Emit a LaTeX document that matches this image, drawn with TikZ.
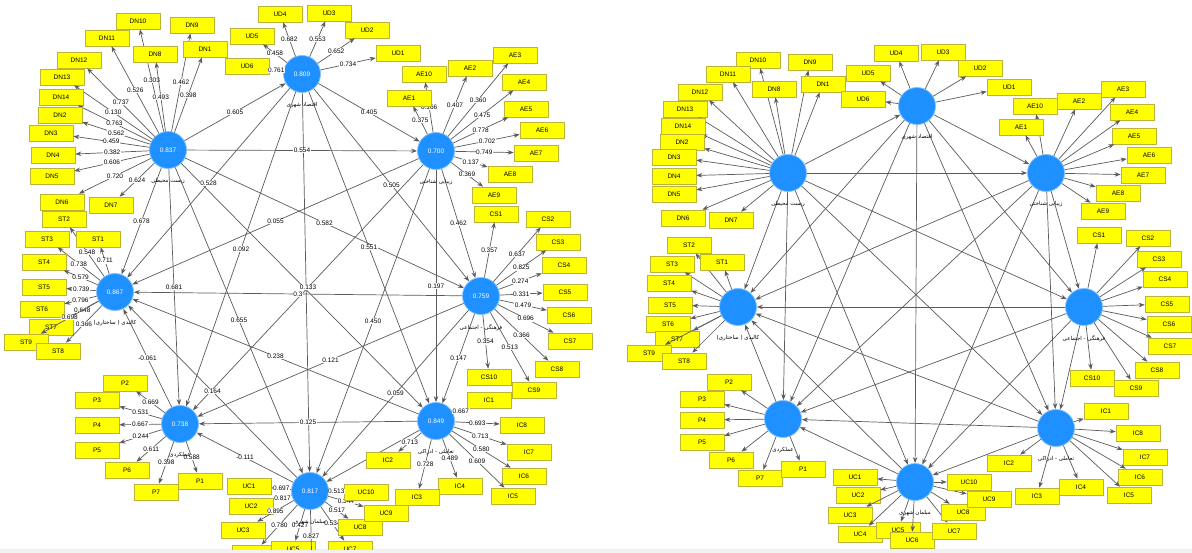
\documentclass[tikz,border=0pt]{standalone}
\usepackage{fontspec}
\setmainfont{Liberation Sans}
\newfontfamily\arabicfont[Script=Arabic]{DejaVu Sans}
\TeXXeTstate=1
\usetikzlibrary{arrows.meta,positioning,calc}
\definecolor{lvblue}{HTML}{1E90FF}
\definecolor{linegray}{HTML}{5A5A5A}
\definecolor{boxyellow}{HTML}{FFFF00}

\begin{document}
\begin{tikzpicture}[x=1pt, y=-1pt,
  construct/.style={circle, fill=lvblue, draw=lvblue!55!white, line width=0.8pt,
                    minimum size=37pt, inner sep=0pt, text=white,
                    font=\fontsize{6.5}{7}\selectfont},
  item/.style={rectangle, fill=boxyellow, draw=yellow!70!black, line width=0.6pt,
               minimum width=44pt, minimum height=16pt, inner sep=0pt,
               font=\fontsize{6.5}{7}\selectfont},
  coef/.style={fill=white, inner sep=0.6pt, font=\fontsize{6.5}{7}\selectfont},
  cname/.style={inner sep=0pt, font={\arabicfont\fontsize{5.5}{6}\selectfont}},
  link/.style={draw=linegray, line width=0.7pt, -{Stealth[length=6pt,width=4.5pt]}},
]
  \useasboundingbox (0,0) rectangle (1192,553);
  \fill[gray!12] (0,549) rectangle (1192,553);

  \begin{scope}
  \clip (0,0) rectangle (1192,549);

  % Left model: constructs with R-squared / AVE values
  \node[construct] (L-DN) at (168,150) {0.837};
  \node[construct] (L-UD) at (302,74)  {0.809};
  \node[construct] (L-AE) at (436,151) {0.700};
  \node[construct] (L-CS) at (481,296) {0.759};
  \node[construct] (L-IC) at (436,421) {0.849};
  \node[construct] (L-UC) at (310,491) {0.817};
  \node[construct] (L-P)  at (180,424) {0.738};
  \node[construct] (L-ST) at (115,292) {0.867};

  % Right model: same constructs, no values
  \node[construct] (R-DN) at (788,173) {};
  \node[construct] (R-UD) at (917,106) {};
  \node[construct] (R-AE) at (1046,173) {};
  \node[construct] (R-CS) at (1084,307) {};
  \node[construct] (R-IC) at (1056,428) {};
  \node[construct] (R-UC) at (915,482) {};
  \node[construct] (R-P)  at (783,419) {};
  \node[construct] (R-ST) at (738,307) {};

  % Structural paths (both models)
  \foreach \a/\b in {DN/UD, DN/AE, UD/AE, DN/CS, UD/CS, AE/CS, DN/IC, UD/IC,
                     AE/IC, CS/IC, DN/UC, UD/UC, AE/UC, CS/UC, IC/UC, DN/P,
                     UD/P, AE/P, CS/P, IC/P, UC/P, DN/ST, UD/ST, AE/ST,
                     CS/ST, IC/ST, UC/ST, P/ST} {
    \draw[link] (L-\a) -- (L-\b);
    \draw[link] (R-\a) -- (R-\b);
  }

  % Path coefficients (left model only)
  \foreach \a/\b/\v in {DN/UD/0.605, DN/AE/0.554, UD/AE/0.405, DN/CS/0.582,
                        UD/CS/0.505, AE/CS/0.462, UD/IC/0.551, AE/IC/0.197,
                        CS/IC/0.147, DN/UC/0.655, AE/UC/0.450, CS/UC/0.059,
                        DN/P/0.681, UD/P/0.092, CS/P/0.121, IC/P/0.125,
                        UC/P/-0.111, DN/ST/0.678, UD/ST/0.528, AE/ST/0.055,
                        IC/ST/0.238, UC/ST/0.164, P/ST/-0.061, CS/ST/0.3,
                        AE/P/0.133}
    \node[coef] at ($(L-\a)!.5!(L-\b)$) {\v};

  % Left model: indicators with loadings
  \foreach \c/\n/\x/\y/\v in {
      DN/DN10/138/21/0.303, DN/DN9/192/25/0.462, DN/DN11/107/38/0.526,
      DN/DN8/155/54/0.493, DN/DN1/205/49/0.398, DN/DN12/79/60/0.737,
      DN/DN13/62/77/0.130, DN/DN14/61/97/0.763, DN/DN2/60/115/0.562,
      DN/DN3/51/133/0.459, DN/DN4/53/155/0.382, DN/DN5/52/176/0.606,
      DN/DN6/62/202/0.720, DN/DN7/111/205/0.624,
      UD/UD4/280/14/0.682, UD/UD3/329/13/0.553, UD/UD5/252/36/0.458,
      UD/UD2/367/30/0.652, UD/UD6/247/66/0.761, UD/UD1/398/53/0.734,
      AE/AE10/424/74/0.166, AE/AE2/470/68/0.407, AE/AE3/515/55/0.360,
      AE/AE1/409/98/0.375, AE/AE4/524/82/0.475, AE/AE5/526/109/0.778,
      AE/AE6/542/130/0.702, AE/AE7/536/153/0.749, AE/AE8/510/174/0.137,
      AE/AE9/494/195/0.369,
      CS/CS1/496/214/0.357, CS/CS2/548/219/0.637, CS/CS3/558/242/0.825,
      CS/CS4/564/265/0.274, CS/CS5/565/292/0.331, CS/CS6/569/315/0.479,
      CS/CS7/570/341/0.696, CS/CS8/557/369/0.366, CS/CS9/534/390/0.513,
      CS/CS10/489/377/0.354,
      IC/IC1/489/400/0.667, IC/IC8/522/425/0.693, IC/IC7/529/452/0.713,
      IC/IC6/524/476/0.580, IC/IC5/513/496/0.609, IC/IC4/460/486/0.489,
      IC/IC3/417/497/0.728, IC/IC2/388/460/0.713,
      UC/UC1/249/486/0.697, UC/UC2/251/506/0.817, UC/UC3/243/530/0.895,
      UC/UC4/254/553/0.780, UC/UC5/293/549/0.427, UC/UC6/312/570/0.827,
      UC/UC7/350/549/0.534, UC/UC8/360/527/0.517, UC/UC9/386/513/0.344,
      UC/UC10/366/492/0.513,
      P/P2/125/383/0.669, P/P3/97/400/0.531, P/P4/97/425/0.667,
      P/P5/97/450/0.244, P/P6/127/470/0.611, P/P7/156/492/0.398,
      P/P1/200/481/0.588,
      ST/ST2/64/219/0.548, ST/ST3/47/239/0.738, ST/ST1/98/239/0.711,
      ST/ST4/44/262/0.579, ST/ST5/44/287/0.739, ST/ST6/42/309/0.796,
      ST/ST7/51/327/0.648, ST/ST9/26/342/0.698, ST/ST8/58/351/0.366} {
    \node[item] (L-\n) at (\x,\y) {\n};
    \draw[link] (L-\c) -- (L-\n) node[coef, pos=.5] {\v};
  }

  % Right model: indicators
  \foreach \c/\n/\x/\y in {
      DN/DN10/758/60, DN/DN9/810/62, DN/DN11/728/74, DN/DN8/774/89,
      DN/DN1/823/84, DN/DN12/700/92, DN/DN13/685/109, DN/DN14/683/126,
      DN/DN2/682/142, DN/DN3/674/157, DN/DN4/674/176, DN/DN5/674/194,
      DN/DN6/683/218, DN/DN7/731/220,
      UD/UD4/896/53, UD/UD3/943/52, UD/UD2/980/68, UD/UD5/868/73,
      UD/UD1/1009/87, UD/UD6/863/99,
      AE/AE10/1035/106, AE/AE2/1079/101, AE/AE3/1123/89, AE/AE1/1021/127,
      AE/AE4/1132/112, AE/AE5/1134/136, AE/AE6/1149/155, AE/AE7/1143/175,
      AE/AE8/1118/193, AE/AE9/1103/211,
      CS/CS1/1099/235, CS/CS2/1148/238, CS/CS3/1159/259, CS/CS4/1165/279,
      CS/CS5/1167/304, CS/CS6/1169/324, CS/CS7/1170/346, CS/CS8/1157/370,
      CS/CS9/1136/388, CS/CS10/1092/378,
      IC/IC1/1106/411, IC/IC8/1138/433, IC/IC7/1145/457, IC/IC6/1140/477,
      IC/IC5/1129/495, IC/IC4/1081/487, IC/IC3/1037/496, IC/IC2/1009/463,
      UC/UC1/855/477, UC/UC2/858/495, UC/UC3/850/515, UC/UC4/860/534,
      UC/UC5/898/530, UC/UC6/912/540, UC/UC7/954/531, UC/UC8/963/512,
      UC/UC9/989/499, UC/UC10/969/482,
      P/P2/729/382, P/P3/702/399, P/P4/702/420, P/P5/702/442,
      P/P6/731/460, P/P7/760/478, P/P1/803/469,
      ST/ST2/689/245, ST/ST3/672/264, ST/ST1/722/262, ST/ST4/669/283,
      ST/ST5/670/305, ST/ST6/668/324, ST/ST7/677/339, ST/ST9/649/353,
      ST/ST8/684/361} {
    \node[item] (R-\n) at (\x,\y) {\n};
    \draw[link] (R-\c) -- (R-\n);
  }

  % Construct names under the circles
  \foreach \m in {L, R} {
    \node[cname, below=9pt of \m-DN] (\m-DN-name) {\beginR زیست محیطی\endR};
    \node[cname, below=9pt of \m-UD] (\m-UD-name) {\beginR اقتصاد شهری\endR};
    \node[cname, below=9pt of \m-AE] (\m-AE-name) {\beginR زیبایی شناختی\endR};
    \node[cname, below=9pt of \m-CS] (\m-CS-name) {\beginR فرهنگی - اجتماعی\endR};
    \node[cname, below=9pt of \m-IC] (\m-IC-name) {\beginR تعاملی - ادراکی\endR};
    \node[cname, below=9pt of \m-UC] (\m-UC-name) {\beginR مبلمان شهری\endR};
    \node[cname, below=9pt of \m-P]  (\m-P-name)  {\beginR عملکردی\endR};
    \node[cname, below=9pt of \m-ST] (\m-ST-name) {\beginR کالبدی ( ساختاری)\endR};
  }
  \end{scope}
\end{tikzpicture}
\end{document}
